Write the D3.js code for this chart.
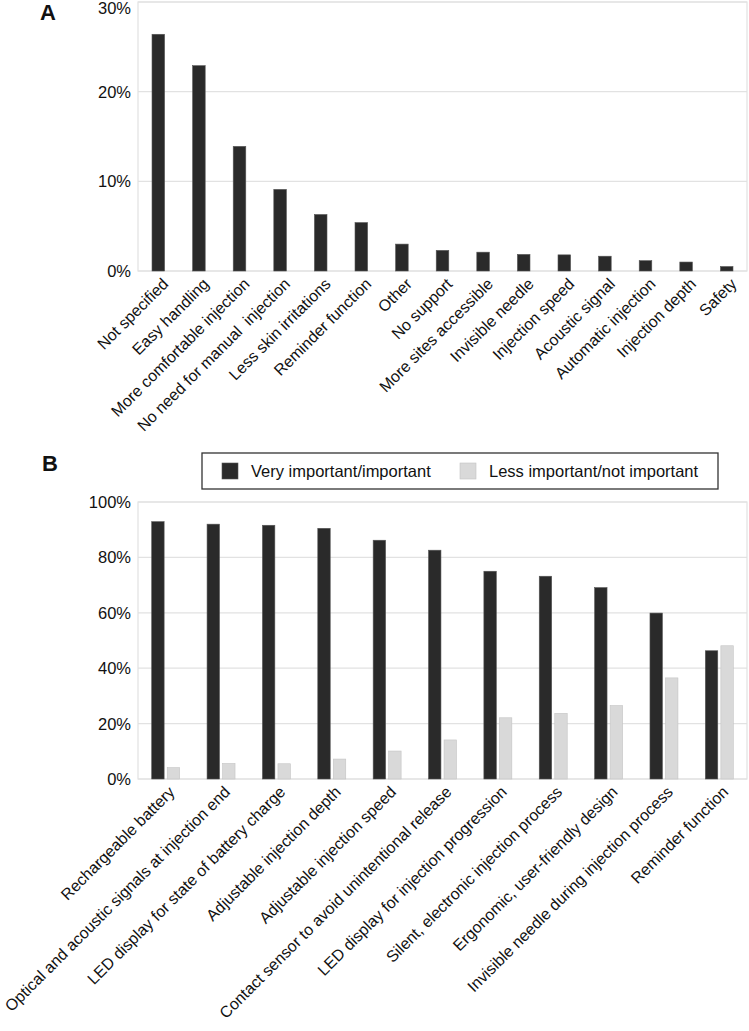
<!DOCTYPE html>
<html><head><meta charset="utf-8">
<script src="https://cdn.jsdelivr.net/npm/d3@7"></script>
<style>
html,body{margin:0;padding:0;background:#fff;}
text{font-family:"Liberation Sans",Arial,sans-serif;fill:#111;}
</style></head>
<body><svg id="c" width="749" height="1031"></svg>
<script>
// ---- Data: panel A ----
const catsA = ["Not specified","Easy handling","More comfortable injection","No need for manual  injection","Less skin irritations","Reminder function","Other","No support","More sites accessible","Invisible needle","Injection speed","Acoustic signal","Automatic injection","Injection depth","Safety"];
const valsA = [26.4,22.9,13.9,9.1,6.3,5.4,3.0,2.3,2.1,1.85,1.8,1.65,1.15,1.0,0.5];
const ticksA = [0,10,20,30];

// ---- Data: panel B ----
const catsB = ["Rechargeable battery","Optical and acoustic signals at injection end","LED display for state of battery charge","Adjustable injection depth","Adjustable injection speed","Contact sensor to avoid unintentional release","LED display for injection progression","Silent, electronic injection process","Ergonomic, user-friendly design","Invisible needle during injection process","Reminder function"];
const seriesB = ["Very important/important","Less important/not important"];
const importantB = [92.9,92.0,91.6,90.5,86.2,82.6,75.0,73.2,69.1,59.9,46.3];
const lessB = [4.1,5.6,5.5,7.2,10.1,14.1,22.1,23.7,26.5,36.5,48.1];
const ticksB = [0,20,40,60,80,100];

const colDark = "#2a2a2a", colLight = "#d9d9d9", grid = "#e2e2e2";
const svg = d3.select("#c");
const fs = 16.5, fsx = 16;

// ---------- Panel A ----------
const A = {l:138, r:747, t:2, b:271};
const xA = d3.scaleBand().domain(catsA).range([A.l, A.r]).paddingInner(0.69).paddingOuter(0.345);
const yA = d3.scaleLinear().domain([0,30]).range([A.b, A.t]);
const gA = svg.append("g");
gA.selectAll("line.g").data(ticksA).join("line")
  .attr("x1",A.l).attr("x2",A.r).attr("y1",d=>yA(d)).attr("y2",d=>yA(d))
  .attr("stroke",grid).attr("stroke-width",1.2);
gA.append("rect").attr("x",A.l).attr("y",A.t).attr("width",A.r-A.l).attr("height",A.b-A.t)
  .attr("fill","none").attr("stroke",grid).attr("stroke-width",1.2);
gA.selectAll("rect.bar").data(valsA).join("rect").attr("class","bar")
  .attr("x",(d,i)=>xA(catsA[i])).attr("width",xA.bandwidth())
  .attr("y",d=>yA(d)).attr("height",d=>A.b-yA(d))
  .attr("fill",colDark).attr("stroke","#555").attr("stroke-width",0.6);
gA.selectAll("text.yt").data(ticksA).join("text")
  .attr("x",A.l-7).attr("y",d=>Math.max(yA(d)+6, 14)).attr("text-anchor","end")
  .attr("font-size",fs).text(d=>d+"%");
gA.selectAll("text.xl").data(catsA).join("text")
  .attr("text-anchor","end").attr("font-size",fsx)
  .attr("transform",d=>`translate(${xA(d)+xA.bandwidth()/2+11},${A.b+14}) rotate(-45)`)
  .style("white-space","pre").text(d=>d);
svg.append("text").attr("x",40).attr("y",20).attr("font-size",22).attr("font-weight","bold").text("A");

// ---------- Panel B ----------
const B = {l:138, r:747, t:502, b:779};
const xB = d3.scaleBand().domain(catsB).range([B.l, B.r]).paddingInner(0.495).paddingOuter(0.2475);
const xSub = d3.scaleBand().domain(seriesB).range([0, xB.bandwidth()]).paddingInner(0.2);
const yB = d3.scaleLinear().domain([0,100]).range([B.b, B.t]);
const gB = svg.append("g");
gB.selectAll("line.g").data(ticksB).join("line")
  .attr("x1",B.l).attr("x2",B.r).attr("y1",d=>yB(d)).attr("y2",d=>yB(d))
  .attr("stroke",grid).attr("stroke-width",1.2);
gB.append("rect").attr("x",B.l).attr("y",B.t).attr("width",B.r-B.l).attr("height",B.b-B.t)
  .attr("fill","none").attr("stroke",grid).attr("stroke-width",1.2);
const seriesVals = [importantB, lessB];
const seriesCols = [colDark, colLight];
const seriesStroke = ["#555", "#c4c4c4"];
seriesVals.forEach((vals,si)=>{
  gB.selectAll("rect.s"+si).data(vals).join("rect").attr("class","s"+si)
    .attr("x",(d,i)=>xB(catsB[i])+xSub(seriesB[si])).attr("width",xSub.bandwidth())
    .attr("y",d=>yB(d)).attr("height",d=>B.b-yB(d))
    .attr("fill",seriesCols[si]).attr("stroke",seriesStroke[si]).attr("stroke-width",0.6);
});
gB.selectAll("text.yt").data(ticksB).join("text")
  .attr("x",B.l-7).attr("y",d=>yB(d)+6).attr("text-anchor","end")
  .attr("font-size",fs).text(d=>d+"%");
gB.selectAll("text.xl").data(catsB).join("text")
  .attr("text-anchor","end").attr("font-size",fsx)
  .attr("transform",d=>`translate(${xB(d)+xB.bandwidth()/2+10},${B.b+14}) rotate(-45)`)
  .text(d=>d);
svg.append("text").attr("x",42).attr("y",471).attr("font-size",22).attr("font-weight","bold").text("B");

// Legend
const lg = svg.append("g");
lg.append("rect").attr("x",202).attr("y",453).attr("width",516).attr("height",36)
  .attr("fill","#fff").attr("stroke","#333").attr("stroke-width",1.3);
const legX = [222, 460];
seriesB.forEach((s,i)=>{
  lg.append("rect").attr("x",legX[i]).attr("y",463).attr("width",16).attr("height",16)
    .attr("fill",seriesCols[i]).attr("stroke",seriesStroke[i]).attr("stroke-width",0.6);
  lg.append("text").attr("x",legX[i]+29).attr("y",477).attr("font-size",fs).text(s);
});
</script></body></html>
